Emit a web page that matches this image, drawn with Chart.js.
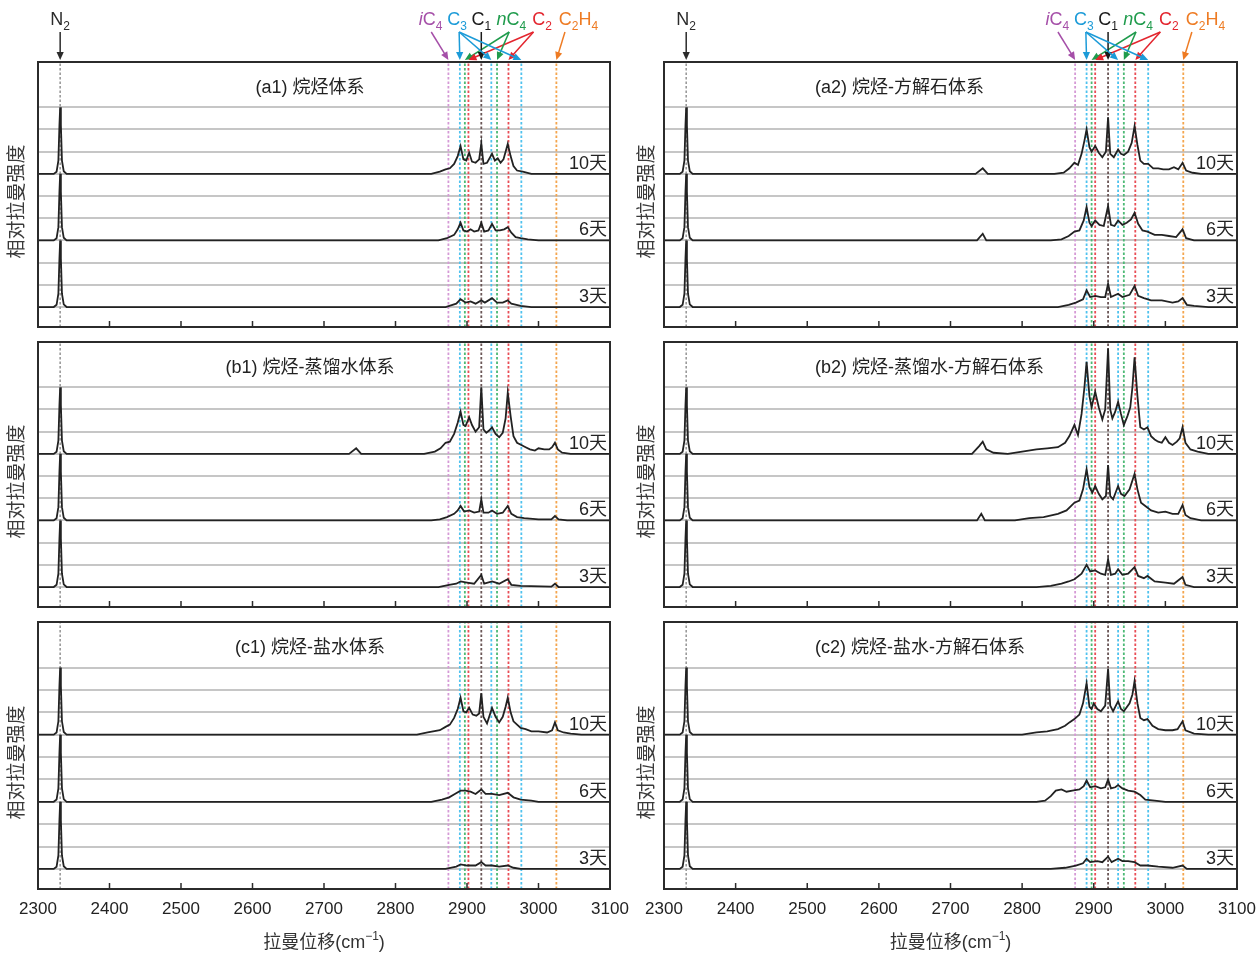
<!DOCTYPE html>
<html>
<head>
<meta charset="utf-8">
<script src="https://cdn.jsdelivr.net/npm/chart.js@4.4.1/dist/chart.umd.min.js"></script>
<style>
  body { margin: 0; background: #fff; width: 1258px; height: 956px; position: relative; overflow: hidden; }
  canvas { position: absolute; }
</style>
</head>
<body>
<canvas id="a1"></canvas>
<canvas id="b1"></canvas>
<canvas id="c1"></canvas>
<canvas id="a2"></canvas>
<canvas id="b2"></canvas>
<canvas id="c2"></canvas>
<script>
// ---- data (wavenumber cm-1, intensity relative to N2) ----
const xTicks = [2300, 2400, 2500, 2600, 2700, 2800, 2900, 3000, 3100];
const yGrid = [0, 1, 2, 3, 4, 5, 6, 7, 8, 9];
const dayLabels = ['10天', '6天', '3天'];
const dayOffsets = [6, 3, 0];

const n2Pos = 2331;
const markerPos = [2874, 2890, 2897, 2902, 2920, 2934, 2942, 2958, 2976, 3025];
const markerSpecies = ['iC4', 'C3', 'nC4', 'C2', 'C1', 'C3', 'nC4', 'C2', 'C3', 'C2H4'];
const speciesLabelPos = { iC4: 2849, C3: 2886, C1: 2920, nC4: 2962, C2: 3005, C2H4: 3056 };
const speciesArrowFrom = { iC4: 2850, C3: 2889, C1: 2920, nC4: 2959, C2: 2993, C2H4: 3037 };

const n2Peak = [[2300, 0], [2322, 0], [2326, 0.1], [2328.5, 0.6], [2330, 2.2], [2331, 3.0], [2332, 2.2], [2333.5, 0.6], [2336, 0.12], [2340, 0]];

// (a1) 烷烃体系
const a1Day10 = [...n2Peak, [2850, 0], [2862, 0.1], [2870, 0.2], [2876, 0.25], [2882, 0.45], [2887, 0.8], [2891, 1.25], [2895, 0.65], [2899, 0.6], [2903, 0.95], [2907, 0.55], [2912, 0.5], [2917, 0.65], [2920, 1.37], [2923, 0.45], [2928, 0.5], [2935, 0.9], [2939, 0.6], [2943, 0.7], [2947, 0.5], [2951, 0.65], [2957, 1.35], [2961, 0.8], [2965, 0.35], [2970, 0.15], [2978, 0.1], [2990, 0], [3100, 0]];
const a1Day6 = [...n2Peak, [2860, 0], [2872, 0.1], [2882, 0.25], [2887, 0.5], [2891, 0.8], [2895, 0.45], [2900, 0.4], [2905, 0.5], [2910, 0.4], [2916, 0.45], [2920, 0.8], [2924, 0.4], [2930, 0.45], [2935, 0.75], [2940, 0.45], [2946, 0.45], [2952, 0.5], [2957, 0.6], [2962, 0.35], [2968, 0.15], [2975, 0.1], [2985, 0.05], [3000, 0], [3100, 0]];
const a1Day3 = [...n2Peak, [2870, 0], [2885, 0.15], [2891, 0.35], [2898, 0.2], [2905, 0.25], [2912, 0.15], [2920, 0.3], [2925, 0.2], [2935, 0.4], [2942, 0.2], [2950, 0.2], [2957, 0.3], [2962, 0.15], [2975, 0.05], [2990, 0], [3100, 0]];

// (b1) 烷烃-蒸馏水体系
const b1Day10 = [...n2Peak, [2735, 0], [2745, 0.25], [2752, 0], [2840, 0], [2855, 0.1], [2863, 0.25], [2870, 0.5], [2876, 0.55], [2882, 0.9], [2887, 1.4], [2891, 1.9], [2895, 1.3], [2898, 1.25], [2903, 1.65], [2907, 1.3], [2912, 1.0], [2917, 1.2], [2920, 3.0], [2923, 1.1], [2927, 0.95], [2931, 1.05], [2935, 1.2], [2940, 0.9], [2945, 0.75], [2950, 0.95], [2954, 1.6], [2957, 2.75], [2961, 1.7], [2965, 0.8], [2970, 0.5], [2976, 0.4], [2982, 0.3], [2988, 0.2], [2995, 0.15], [3000, 0.25], [3008, 0.2], [3015, 0.2], [3019, 0.3], [3023, 0.5], [3027, 0.2], [3033, 0.05], [3045, 0], [3100, 0]];
const b1Day6 = [...n2Peak, [2850, 0], [2862, 0.05], [2872, 0.15], [2882, 0.3], [2887, 0.45], [2891, 0.65], [2896, 0.4], [2903, 0.45], [2910, 0.35], [2917, 0.4], [2920, 0.95], [2923, 0.35], [2930, 0.35], [2935, 0.45], [2942, 0.3], [2950, 0.35], [2957, 0.65], [2962, 0.3], [2970, 0.15], [2980, 0.1], [3000, 0.05], [3018, 0.05], [3023, 0.2], [3028, 0.05], [3040, 0], [3100, 0]];
const b1Day3 = [...n2Peak, [2860, 0], [2875, 0.1], [2885, 0.15], [2891, 0.25], [2900, 0.2], [2910, 0.15], [2920, 0.55], [2924, 0.15], [2935, 0.25], [2945, 0.15], [2957, 0.35], [2962, 0.1], [2975, 0.05], [3018, 0.02], [3023, 0.15], [3028, 0], [3100, 0]];

// (c1) 烷烃-盐水体系
const c1Day10 = [...n2Peak, [2830, 0], [2845, 0.1], [2862, 0.2], [2870, 0.35], [2876, 0.45], [2882, 0.75], [2887, 1.15], [2891, 1.65], [2895, 1.05], [2899, 1.0], [2903, 1.2], [2908, 0.9], [2913, 0.85], [2917, 0.95], [2920, 1.85], [2923, 0.8], [2928, 0.5], [2935, 1.2], [2940, 0.8], [2945, 0.55], [2950, 0.8], [2954, 1.25], [2957, 1.65], [2961, 1.0], [2965, 0.6], [2970, 0.45], [2975, 0.3], [2982, 0.25], [2990, 0.15], [3000, 0.15], [3012, 0.1], [3019, 0.2], [3023, 0.55], [3027, 0.2], [3035, 0.1], [3045, 0.05], [3060, 0], [3100, 0]];
const c1Day6 = [...n2Peak, [2850, 0], [2865, 0.1], [2875, 0.2], [2883, 0.35], [2891, 0.5], [2898, 0.5], [2905, 0.45], [2912, 0.35], [2920, 0.55], [2926, 0.35], [2935, 0.35], [2945, 0.3], [2957, 0.4], [2965, 0.2], [2975, 0.1], [2990, 0.05], [3000, 0], [3100, 0]];
const c1Day3 = [...n2Peak, [2870, 0], [2885, 0.1], [2891, 0.2], [2900, 0.15], [2912, 0.15], [2920, 0.3], [2926, 0.15], [2935, 0.15], [2945, 0.1], [2957, 0.15], [2965, 0.05], [2975, 0], [3100, 0]];

// (a2) 烷烃-方解石体系
const a2Day10 = [...n2Peak, [2735, 0], [2745, 0.25], [2752, 0], [2845, 0], [2858, 0.05], [2866, 0.25], [2873, 0.5], [2878, 0.4], [2883, 0.9], [2887, 1.5], [2890, 2.0], [2894, 1.2], [2897, 1.0], [2902, 1.25], [2907, 0.95], [2912, 0.75], [2917, 1.0], [2920, 2.55], [2923, 0.9], [2928, 0.75], [2934, 1.1], [2938, 0.9], [2942, 0.85], [2948, 1.0], [2953, 1.4], [2957, 2.15], [2961, 1.3], [2965, 0.6], [2970, 0.45], [2976, 0.45], [2983, 0.25], [2990, 0.25], [2997, 0.2], [3005, 0.2], [3012, 0.3], [3018, 0.2], [3024, 0.5], [3029, 0.15], [3038, 0.05], [3050, 0], [3100, 0]];
const a2Day6 = [...n2Peak, [2737, 0], [2745, 0.3], [2750, 0], [2840, 0], [2855, 0.05], [2865, 0.2], [2873, 0.4], [2880, 0.45], [2886, 0.9], [2890, 1.5], [2894, 0.8], [2897, 0.65], [2902, 0.9], [2908, 0.7], [2914, 0.65], [2920, 1.55], [2924, 0.7], [2929, 0.65], [2934, 0.9], [2940, 0.7], [2946, 0.8], [2952, 0.95], [2957, 1.25], [2962, 0.75], [2968, 0.45], [2975, 0.4], [2985, 0.25], [2995, 0.25], [3005, 0.2], [3015, 0.15], [3024, 0.5], [3029, 0.1], [3040, 0], [3100, 0]];
const a2Day3 = [...n2Peak, [2850, 0], [2865, 0.1], [2875, 0.2], [2885, 0.35], [2890, 0.75], [2895, 0.45], [2902, 0.5], [2910, 0.45], [2916, 0.45], [2920, 1.05], [2924, 0.45], [2934, 0.6], [2940, 0.45], [2950, 0.55], [2957, 0.95], [2962, 0.5], [2970, 0.4], [2980, 0.3], [2995, 0.3], [3010, 0.2], [3018, 0.25], [3024, 0.4], [3030, 0.1], [3040, 0.05], [3060, 0], [3100, 0]];

// (b2) 烷烃-蒸馏水-方解石体系
const b2Day10 = [...n2Peak, [2730, 0], [2740, 0.35], [2745, 0.55], [2750, 0.2], [2760, 0.05], [2780, 0], [2800, 0.1], [2820, 0.2], [2835, 0.25], [2850, 0.3], [2860, 0.5], [2866, 0.8], [2873, 1.3], [2878, 0.85], [2883, 1.8], [2887, 3.0], [2890, 4.15], [2894, 2.6], [2897, 2.1], [2902, 2.8], [2907, 2.1], [2912, 1.55], [2916, 2.0], [2920, 4.75], [2923, 2.0], [2926, 1.6], [2930, 1.9], [2934, 2.35], [2938, 1.8], [2942, 1.3], [2947, 1.7], [2951, 2.1], [2954, 3.0], [2957, 4.35], [2961, 2.6], [2965, 1.2], [2970, 1.1], [2975, 1.2], [2980, 0.8], [2985, 0.65], [2990, 0.55], [2995, 0.5], [3000, 0.75], [3005, 0.5], [3010, 0.4], [3016, 0.55], [3020, 0.7], [3024, 1.2], [3028, 0.5], [3035, 0.2], [3045, 0.1], [3060, 0], [3100, 0]];
const b2Day6 = [...n2Peak, [2737, 0], [2743, 0.3], [2748, 0], [2790, 0], [2810, 0.1], [2830, 0.15], [2850, 0.3], [2862, 0.45], [2873, 0.8], [2880, 0.9], [2885, 1.4], [2890, 2.3], [2894, 1.5], [2898, 1.25], [2902, 1.55], [2907, 1.2], [2912, 0.95], [2917, 1.1], [2920, 2.5], [2923, 1.1], [2927, 0.95], [2934, 1.55], [2938, 1.2], [2943, 1.1], [2950, 1.4], [2957, 2.1], [2961, 1.4], [2966, 0.8], [2972, 0.65], [2980, 0.45], [2990, 0.35], [3000, 0.4], [3010, 0.3], [3018, 0.3], [3024, 0.7], [3028, 0.25], [3035, 0.1], [3050, 0], [3100, 0]];
const b2Day3 = [...n2Peak, [2820, 0], [2840, 0.05], [2855, 0.15], [2865, 0.25], [2873, 0.35], [2883, 0.6], [2890, 1.0], [2895, 0.7], [2902, 0.75], [2910, 0.6], [2916, 0.55], [2920, 1.25], [2924, 0.55], [2930, 0.6], [2934, 0.8], [2940, 0.55], [2948, 0.6], [2957, 0.9], [2962, 0.5], [2970, 0.4], [2975, 0.5], [2985, 0.25], [3000, 0.2], [3012, 0.15], [3024, 0.45], [3028, 0.1], [3040, 0], [3100, 0]];

// (c2) 烷烃-盐水-方解石体系
const c2Day10 = [...n2Peak, [2800, 0], [2820, 0.1], [2835, 0.15], [2850, 0.25], [2860, 0.4], [2866, 0.55], [2873, 0.7], [2880, 0.9], [2885, 1.4], [2890, 2.3], [2894, 1.25], [2897, 1.15], [2900, 1.4], [2905, 1.15], [2910, 1.05], [2916, 1.3], [2920, 2.95], [2923, 1.3], [2927, 1.05], [2934, 1.5], [2938, 1.15], [2942, 1.05], [2950, 1.4], [2954, 1.8], [2957, 2.4], [2961, 1.4], [2965, 0.75], [2970, 0.65], [2975, 0.7], [2982, 0.4], [2990, 0.25], [3000, 0.2], [3010, 0.2], [3017, 0.25], [3024, 0.6], [3028, 0.2], [3040, 0.05], [3060, 0], [3100, 0]];
const c2Day6 = [...n2Peak, [2820, 0], [2832, 0.05], [2840, 0.25], [2847, 0.5], [2855, 0.55], [2862, 0.45], [2870, 0.5], [2880, 0.55], [2886, 0.7], [2890, 0.95], [2895, 0.65], [2902, 0.7], [2910, 0.6], [2916, 0.65], [2920, 1.0], [2924, 0.6], [2930, 0.65], [2934, 0.75], [2940, 0.6], [2948, 0.5], [2957, 0.45], [2965, 0.3], [2972, 0.1], [2985, 0.05], [3000, 0], [3100, 0]];
const c2Day3 = [...n2Peak, [2840, 0], [2860, 0.05], [2875, 0.15], [2885, 0.25], [2890, 0.45], [2895, 0.3], [2905, 0.35], [2912, 0.3], [2920, 0.55], [2925, 0.3], [2934, 0.45], [2940, 0.35], [2948, 0.35], [2957, 0.3], [2965, 0.15], [2975, 0.15], [2990, 0.1], [3010, 0.05], [3024, 0.15], [3030, 0], [3100, 0]];

// ---- styles ----
const FONT = '"Liberation Sans", Arial, "Noto Sans CJK SC", sans-serif';
const speciesColor = { iC4: '#a54fa8', C3: '#1c9bd8', C1: '#1a1a1a', nC4: '#1f9b4c', C2: '#e3252e', C2H4: '#ee7b23' };
const lineColor = { iC4: '#d59ad6', C3: '#4fc2ee', C1: '#6a5656', nC4: '#4bb974', C2: '#e94d56', C2H4: '#f4a54e' };
const speciesText = {
  iC4: [['i', 'i'], ['C', 'n'], ['4', 's']],
  C3: [['C', 'n'], ['3', 's']],
  C1: [['C', 'n'], ['1', 's']],
  nC4: [['n', 'i'], ['C', 'n'], ['4', 's']],
  C2: [['C', 'n'], ['2', 's']],
  C2H4: [['C', 'n'], ['2', 's'], ['H', 'n'], ['4', 's']]
};

const Y_MIN = -0.9, Y_MAX = 11.04;

const cols = [
  { x: 0, w: 632, padL: 38, padR: 22, labelX: 18, titleX: 310, titleAlign: 'center' },
  { x: 632, w: 626, padL: 32, padR: 21, labelX: 16, titleX: 183, titleAlign: 'left' }
];
const rows = [
  { y: 0, h: 334, padT: 62, padB: 7, top: true },
  { y: 334, h: 280, padT: 8, padB: 7 },
  { y: 614, h: 342, padT: 8, padB: 0, bottom: true, axisH: 67 }
];

const panels = [
  { id: 'a1', col: 0, row: 0, title: '(a1) 烷烃体系', series: [a1Day10, a1Day6, a1Day3] },
  { id: 'b1', col: 0, row: 1, title: '(b1) 烷烃-蒸馏水体系', series: [b1Day10, b1Day6, b1Day3] },
  { id: 'c1', col: 0, row: 2, title: '(c1) 烷烃-盐水体系', series: [c1Day10, c1Day6, c1Day3] },
  { id: 'a2', col: 1, row: 0, title: '(a2) 烷烃-方解石体系', series: [a2Day10, a2Day6, a2Day3] },
  { id: 'b2', col: 1, row: 1, title: '(b2) 烷烃-蒸馏水-方解石体系', series: [b2Day10, b2Day6, b2Day3] },
  { id: 'c2', col: 1, row: 2, title: '(c2) 烷烃-盐水-方解石体系', series: [c2Day10, c2Day6, c2Day3] }
];

// 富文本（下标/斜体）
function fontFor(s, size) {
  if (s === 's') return Math.round(size * 0.68) + 'px ' + FONT;
  if (s === 'i') return 'italic ' + size + 'px ' + FONT;
  return size + 'px ' + FONT;
}
function drawRich(ctx, parts, cx, baseY, color, size) {
  let w = 0;
  parts.forEach(([t, s]) => { ctx.font = fontFor(s, size); w += ctx.measureText(t).width; });
  let xx = cx - w / 2;
  ctx.fillStyle = color;
  ctx.textAlign = 'left';
  ctx.textBaseline = 'alphabetic';
  parts.forEach(([t, s]) => {
    ctx.font = fontFor(s, size);
    ctx.fillText(t, xx, s === 's' ? baseY + 5 : baseY);
    xx += ctx.measureText(t).width;
  });
}
function arrow(ctx, x1, y1, x2, y2, color) {
  const ang = Math.atan2(y2 - y1, x2 - x1), L = 8, W = 3.6;
  ctx.strokeStyle = color;
  ctx.fillStyle = color;
  ctx.lineWidth = 1.5;
  ctx.beginPath();
  ctx.moveTo(x1, y1);
  ctx.lineTo(x2 - L * 0.7 * Math.cos(ang), y2 - L * 0.7 * Math.sin(ang));
  ctx.stroke();
  ctx.beginPath();
  ctx.moveTo(x2, y2);
  ctx.lineTo(x2 - L * Math.cos(ang) + W * Math.sin(ang), y2 - L * Math.sin(ang) - W * Math.cos(ang));
  ctx.lineTo(x2 - L * Math.cos(ang) - W * Math.sin(ang), y2 - L * Math.sin(ang) + W * Math.cos(ang));
  ctx.closePath();
  ctx.fill();
}

// 边框、刻度、标题、天数、箭头
const panelDecor = {
  id: 'panelDecor',
  afterDraw(chart, args, o) {
    const { ctx, chartArea: a, scales: { x, y } } = chart;
    ctx.save();
    ctx.strokeStyle = '#2b2b2b';
    ctx.lineWidth = 2;
    ctx.strokeRect(a.left, a.top, a.right - a.left, a.bottom - a.top);
    ctx.lineWidth = 1.5;
    xTicks.forEach(v => {
      const px = x.getPixelForValue(v);
      ctx.beginPath();
      ctx.moveTo(px, a.bottom);
      ctx.lineTo(px, a.bottom - 6);
      ctx.stroke();
    });

    // 标题
    ctx.fillStyle = '#222';
    ctx.font = '18px ' + FONT;
    ctx.textAlign = o.titleAlign;
    ctx.textBaseline = 'middle';
    ctx.fillText(o.title, o.titleX, a.top + 26);

    // 天数标签
    ctx.textAlign = 'right';
    dayLabels.forEach((t, i) => {
      ctx.fillText(t, a.right - 3, y.getPixelForValue(dayOffsets[i]) - 10);
    });

    // 纵轴标题
    ctx.save();
    ctx.translate(o.labelX, (a.top + a.bottom) / 2 + 7);
    ctx.rotate(-Math.PI / 2);
    ctx.font = '19px ' + FONT;
    ctx.fillStyle = '#3a3a3a';
    ctx.textAlign = 'center';
    ctx.textBaseline = 'middle';
    ctx.fillText('相对拉曼强度', 0, 0);
    ctx.restore();

    if (o.top) {
      // N2 标注
      const nx = x.getPixelForValue(n2Pos);
      drawRich(ctx, [['N', 'n'], ['2', 's']], nx, 25, '#2b2b2b', 18);
      arrow(ctx, nx, 32, nx, 60, '#2b2b2b');
      // 各组分标注
      Object.keys(speciesText).forEach(s => {
        drawRich(ctx, speciesText[s], x.getPixelForValue(speciesLabelPos[s]), 25, speciesColor[s], 18);
      });
      markerPos.forEach((p, k) => {
        const s = markerSpecies[k];
        arrow(ctx, x.getPixelForValue(speciesArrowFrom[s]), 32, x.getPixelForValue(p), 60, speciesColor[s]);
      });
    }

    if (o.bottom) {
      const cx = (a.left + a.right) / 2, cy = a.bottom + 54;
      const main = '拉曼位移(cm', sup = '\u22121', tail = ')';
      ctx.font = '18px ' + FONT;
      const w1 = ctx.measureText(main).width, w3 = ctx.measureText(tail).width;
      ctx.font = '12px ' + FONT;
      const w2 = ctx.measureText(sup).width;
      let xx = cx - (w1 + w2 + w3) / 2;
      ctx.fillStyle = '#333';
      ctx.textAlign = 'left';
      ctx.textBaseline = 'middle';
      ctx.font = '18px ' + FONT;
      ctx.fillText(main, xx, cy);
      xx += w1;
      ctx.font = '12px ' + FONT;
      ctx.fillText(sup, xx, cy - 6);
      xx += w2;
      ctx.font = '18px ' + FONT;
      ctx.fillText(tail, xx, cy);
    }
    ctx.restore();
  }
};

function makePanel(p) {
  const col = cols[p.col], row = rows[p.row];
  const canvas = document.getElementById(p.id);
  canvas.width = col.w;
  canvas.height = row.h;
  canvas.style.left = col.x + 'px';
  canvas.style.top = row.y + 'px';

  const spectra = p.series.map((arr, i) => ({
    data: arr.map(([w, v]) => ({ x: w, y: v + dayOffsets[i] })),
    borderColor: '#222',
    borderWidth: 1.8,
    pointRadius: 0,
    tension: 0,
    order: 0
  }));
  const markers = markerPos.map((pos, k) => ({
    data: [{ x: pos, y: Y_MIN }, { x: pos, y: Y_MAX }],
    borderColor: lineColor[markerSpecies[k]],
    borderWidth: 1.8,
    borderDash: [2.5, 2],
    pointRadius: 0,
    order: 1
  }));
  markers.push({
    data: [{ x: n2Pos, y: Y_MIN }, { x: n2Pos, y: Y_MAX }],
    borderColor: '#9a9a9a',
    borderWidth: 1.6,
    borderDash: [2.5, 2],
    pointRadius: 0,
    order: 1
  });

  return new Chart(canvas, {
    type: 'line',
    data: { datasets: [...spectra, ...markers] },
    options: {
      responsive: false,
      animation: false,
      events: [],
      layout: { padding: { left: col.padL, right: col.padR, top: row.padT, bottom: row.padB } },
      scales: {
        x: {
          type: 'linear',
          min: 2300,
          max: 3100,
          display: !!row.bottom,
          afterBuildTicks: s => { s.ticks = xTicks.map(v => ({ value: v })); },
          afterFit: s => {
            if (row.bottom) s.height = row.axisH;
            s.paddingLeft = 0;
            s.paddingRight = 0;
          },
          ticks: {
            autoSkip: false,
            maxRotation: 0,
            padding: 10,
            color: '#222',
            font: { size: 17, family: FONT },
            callback: v => String(v)
          },
          grid: { display: false, drawTicks: false },
          border: { display: false }
        },
        y: {
          min: Y_MIN,
          max: Y_MAX,
          afterBuildTicks: s => { s.ticks = yGrid.map(v => ({ value: v })); },
          afterFit: s => { s.width = 0; },
          ticks: { display: false },
          grid: { color: '#c6c6c6', lineWidth: 2, drawTicks: false },
          border: { display: false }
        }
      },
      plugins: {
        legend: { display: false },
        tooltip: { enabled: false },
        panelDecor: {
          title: p.title,
          titleX: col.titleX,
          titleAlign: col.titleAlign,
          labelX: col.labelX,
          top: !!row.top,
          bottom: !!row.bottom
        }
      }
    },
    plugins: [panelDecor]
  });
}

panels.forEach(makePanel);
</script>
</body>
</html>
